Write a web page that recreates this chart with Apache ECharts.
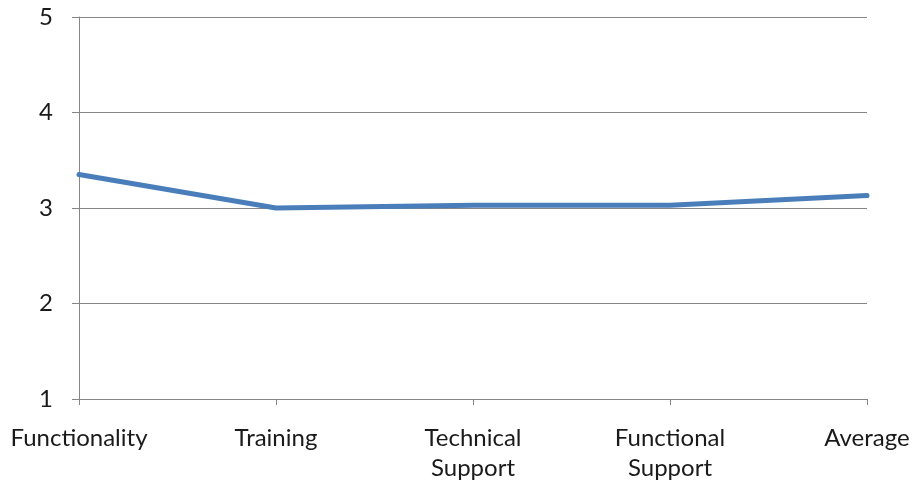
<!DOCTYPE html>
<html>
<head>
<meta charset="utf-8">
<script src="https://cdn.jsdelivr.net/npm/echarts@6/dist/echarts.min.js"></script>
<style>
  html, body { margin: 0; padding: 0; background: #fff; }
  #chart { width: 914px; height: 483px; }
</style>
</head>
<body>
<div id="chart"></div>
<script>
// Mean rating per area (scale 1–5)
const categories = ['Functionality', 'Training', 'Technical\nSupport', 'Functional\nSupport', 'Average'];
const scores = [3.35, 3.0, 3.03, 3.03, 3.13];
const yTicks = [1, 2, 3, 4, 5];

const chart = echarts.init(document.getElementById('chart'), null, { renderer: 'canvas' });
const labelFont = { fontFamily: 'Lato, Carlito, "Open Sans", sans-serif', fontSize: 24, color: '#1a1a1a' };
const gray = '#868686';

chart.setOption({
  animation: false,
  grid: { left: 79, right: 47, top: 17, bottom: 81 },
  xAxis: {
    type: 'category',
    data: categories,
    boundaryGap: false,
    axisLine: { lineStyle: { color: gray, width: 1 } },
    axisTick: { show: true, length: 6, alignWithLabel: true, lineStyle: { color: gray } },
    axisLabel: Object.assign({ margin: 24, lineHeight: 30, interval: 0 }, labelFont),
    splitLine: { show: false }
  },
  yAxis: {
    type: 'value',
    min: yTicks[0],
    max: yTicks[yTicks.length - 1],
    interval: 1,
    axisLine: { show: true, lineStyle: { color: gray, width: 1 } },
    axisTick: { show: true, length: 7, lineStyle: { color: gray } },
    axisLabel: Object.assign({ margin: 26 }, labelFont),
    splitLine: { lineStyle: { color: gray, width: 1 } }
  },
  series: [{
    type: 'line',
    data: scores,
    symbol: 'none',
    lineStyle: { color: '#4a7ebb', width: 5, cap: 'round', join: 'round' }
  }]
});
</script>
</body>
</html>
